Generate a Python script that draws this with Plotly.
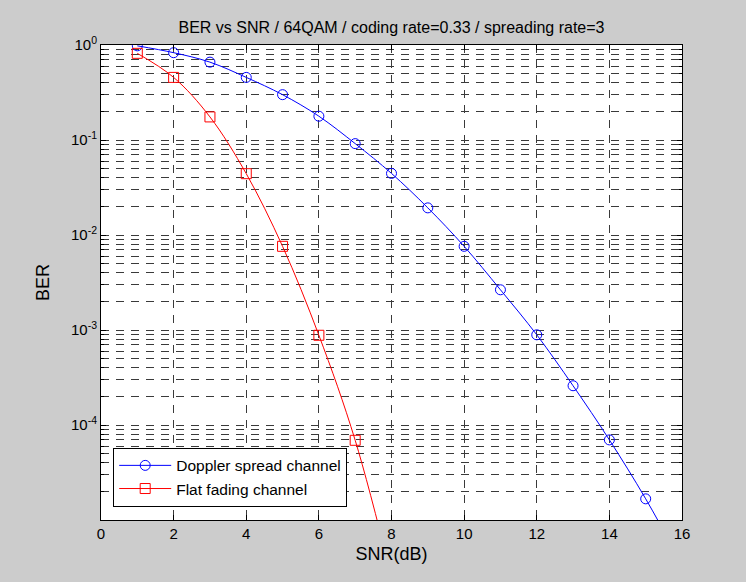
import plotly.graph_objects as go

snr_doppler = [1, 2, 3, 4, 5, 6, 7, 8, 9, 10, 11, 12, 13, 14, 15, 16]
ber_doppler = [0.98, 0.83, 0.66, 0.456, 0.30, 0.178, 0.0916, 0.0445, 0.0193,
               0.0076, 0.00265, 0.00089, 0.000259, 6.97e-5, 1.67e-5, 3.4e-6]

snr_flat = [1, 2, 3, 4, 5, 6, 7, 8]
ber_flat = [0.817, 0.456, 0.175, 0.0442, 0.0076, 0.00088, 6.9e-5, 2.5e-6]

y_major = [1, 0.1, 0.01, 0.001, 0.0001]
y_major_text = ["10<sup>0</sup>", "10<sup>-1</sup>", "10<sup>-2</sup>",
                "10<sup>-3</sup>", "10<sup>-4</sup>"]
y_minor = [m * 10.0 ** e for e in range(-5, 0) for m in range(2, 10)]
x_ticks = [0, 2, 4, 6, 8, 10, 12, 14, 16]

FONT = "Liberation Sans, Arial, Helvetica, sans-serif"
GRID = "#3a3a3a"
DASH = "8px,7px"

fig = go.Figure()
fig.add_trace(go.Scatter(
    x=snr_doppler, y=ber_doppler, name="Doppler spread channel",
    mode="lines+markers", line=dict(color="#0000ff", width=1, shape="spline"),
    marker=dict(symbol="circle-open", size=10, color="#0000ff", line=dict(width=1)),
))
fig.add_trace(go.Scatter(
    x=snr_flat, y=ber_flat, name="Flat fading channel",
    mode="lines+markers", line=dict(color="#ff0000", width=1, shape="spline"),
    marker=dict(symbol="square-open", size=10, color="#ff0000", line=dict(width=1)),
))

fig.update_layout(
    width=746, height=582,
    margin=dict(l=101, r=64, t=45, b=62),
    paper_bgcolor="#cccccc", plot_bgcolor="#ffffff",
    font=dict(family=FONT, size=15, color="#000000"),
    title=dict(text="BER vs SNR / 64QAM / coding rate=0.33 / spreading rate=3",
               x=0.5, xref="paper", xanchor="center", y=0.953, yanchor="middle",
               font=dict(size=16)),
    showlegend=True,
    legend=dict(x=0.021, y=0.152, xanchor="left", yanchor="top",
                bgcolor="#ffffff", bordercolor="#000000", borderwidth=1,
                font=dict(size=15.5), tracegroupgap=0, itemwidth=52),
    xaxis=dict(
        range=[0, 16], tickmode="array", tickvals=x_ticks,
        ticks="inside", ticklen=5, tickcolor="#000000",
        showline=True, linecolor="#000000", linewidth=1, mirror="ticks",
        showgrid=True, gridcolor=GRID, griddash=DASH, gridwidth=1,
        zeroline=False,
        title=dict(text="SNR(dB)", standoff=6),
    ),
    yaxis=dict(
        type="log", range=[-5, 0],
        tickmode="array", tickvals=y_major, ticktext=y_major_text,
        ticks="inside", ticklen=5, tickcolor="#000000",
        showline=True, linecolor="#000000", linewidth=1, mirror="ticks",
        showgrid=True, gridcolor=GRID, griddash=DASH, gridwidth=1,
        zeroline=False,
        minor=dict(tickmode="array", tickvals=y_minor, ticks="inside", ticklen=3,
                   tickcolor="#000000", showgrid=True, gridcolor=GRID,
                   griddash=DASH, gridwidth=1),
        title=dict(text="BER", standoff=16),
    ),
)

fig.write_html("out.html")
